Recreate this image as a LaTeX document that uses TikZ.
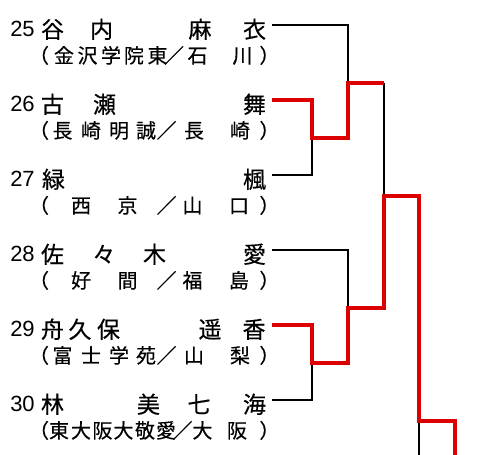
\documentclass[tikz,border=0pt]{standalone}
\usepackage{fontspec}
\setmainfont{Liberation Sans}
\newfontfamily\jpfont[FakeBold=0.4]{Noto Sans CJK JP}
\usepackage{xcolor}
\definecolor{wred}{HTML}{DD0000}
\tikzset{
  num/.style    = {anchor=base, inner sep=0pt, font=\fontsize{22}{22}\selectfont},
  namech/.style = {anchor=base, inner sep=0pt, font=\jpfont\fontsize{23}{23}\selectfont},
  affch/.style  = {anchor=base, inner sep=0pt, font=\jpfont\fontsize{20}{20}\selectfont},
  lose/.style   = {line width=2.2pt, black},
  win/.style    = {line width=4pt, wred},
}
\begin{document}
\begin{tikzpicture}[x=1pt,y=-1pt]
\useasboundingbox (0,0) rectangle (480,455);
% seed numbers
\foreach \k [count=\r from 0] in {25,...,30}
  \node[num] (no\k) at (22.5,{36+75*\r}) {\k};
% names
\foreach \x/\c [count=\i] in {52.5/谷,101.5/内,200/麻,254.5/衣}
  \node[namech] (n25-\i) at (\x,38) {\c};
\foreach \x/\c [count=\i] in {52.5/古,104.5/瀬,254.5/舞}
  \node[namech] (n26-\i) at (\x,113) {\c};
\foreach \x/\c [count=\i] in {53.5/緑,254.5/楓}
  \node[namech] (n27-\i) at (\x,188) {\c};
\foreach \x/\c [count=\i] in {52.5/佐,104/々,154.5/木,254.5/愛}
  \node[namech] (n28-\i) at (\x,263) {\c};
\foreach \x/\c [count=\i] in {52.5/舟,80/久,108.5/保,210/遥,254/香}
  \node[namech] (n29-\i) at (\x,338) {\c};
\foreach \x/\c [count=\i] in {52.5/林,148.5/美,199/七,254.5/海}
  \node[namech] (n30-\i) at (\x,413) {\c};
% schools / prefectures
\foreach \x/\c [count=\i] in {39/（,64/金,87.5/沢,111/学,134/院,157.5/東,174/／,197.5/石,242.5/川,269.5/）}
  \node[affch] (a25-\i) at (\x,63) {\c};
\foreach \x/\c [count=\i] in {39/（,62.5/長,91/崎,119/明,146/誠,166.5/／,194/長,240/崎,269.5/）}
  \node[affch] (a26-\i) at (\x,138) {\c};
\foreach \x/\c [count=\i] in {39/（,81/西,127.5/京,166.5/／,192.5/山,239/口,269.5/）}
  \node[affch] (a27-\i) at (\x,213) {\c};
\foreach \x/\c [count=\i] in {39/（,81/好,127.5/間,166.5/／,192.5/福,239/島,269.5/）}
  \node[affch] (a28-\i) at (\x,288) {\c};
\foreach \x/\c [count=\i] in {39/（,62.5/富,91/士,119/学,146/苑,166.5/／,194/山,240/梨,269.5/）}
  \node[affch] (a29-\i) at (\x,363) {\c};
\foreach \x/\c [count=\i] in {39/（,59/東,81/大,102.5/阪,123.5/大,145/敬,166/愛,182.5/／,202.5/大,237/阪,269.5/）}
  \node[affch] (a30-\i) at (\x,438) {\c};
% bracket points
\foreach \k [count=\r from 0] in {25,...,30}
  \coordinate (e\k) at (272,{25+75*\r});
\coordinate (j1) at (312,138);
\coordinate (j2) at (348,83);
\coordinate (j3) at (312,363);
\coordinate (j4) at (348,308);
\coordinate (j5) at (384,196);
\coordinate (j6) at (419,421);
\coordinate (out) at (455,455);
% losers first
\draw[lose] (e25) -| (j2);
\draw[lose] (e27) -| (j1);
\draw[lose] (e28) -| (j4);
\draw[lose] (e30) -| (j3);
\draw[lose] (j2 -| j5) -- (j5);
\draw[lose] (j6) -- (j6 |- out);
% winners
\draw[win] (e26) -| (j1) -| (j2) -- (j2 -| j5);
\draw[win] (e29) -| (j3) -| (j4) -| (j5) -| (j6) -| (out);
\end{tikzpicture}
\end{document}
